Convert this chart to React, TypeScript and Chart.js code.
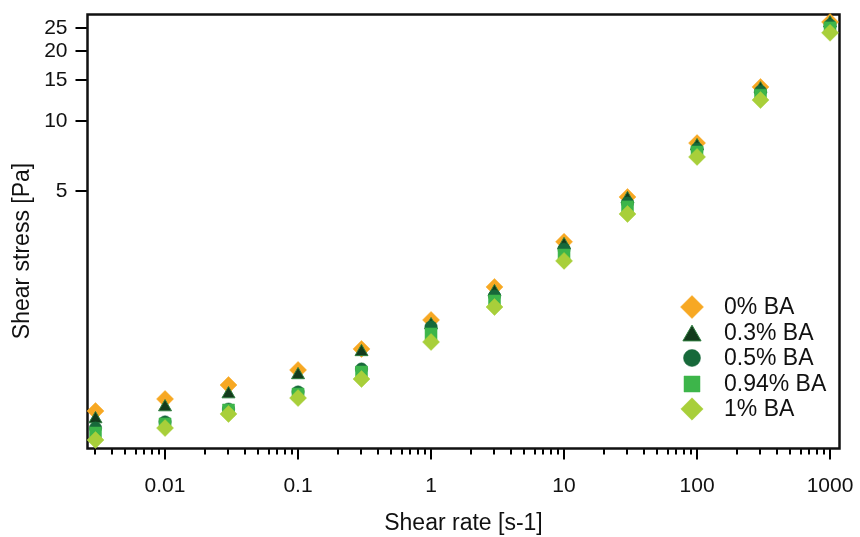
import React, { useEffect, useRef } from 'react';
import { Chart, registerables } from 'chart.js';

Chart.register(...registerables);

// Shear rate [s-1]
const shearRate = [0.003, 0.01, 0.03, 0.1, 0.3, 1, 3, 10, 30, 100, 300, 1000];
// Shear stress [Pa] per series
const ba0 = [0.569, 0.641, 0.736, 0.854, 1.051, 1.4, 1.94, 3.03, 4.72, 8.04, 14.0, 26.6];
const ba03 = [0.526, 0.592, 0.673, 0.813, 1.021, 1.332, 1.846, 2.94, 4.63, 7.81, 13.7, 26.3];
const ba05 = [0.481, 0.511, 0.58, 0.687, 0.862, 1.306, 1.774, 2.82, 4.45, 7.59, 13.4, 25.8];
const ba094 = [0.458, 0.501, 0.575, 0.673, 0.837, 1.219, 1.688, 2.66, 4.28, 7.36, 12.9, 25.1];
const ba1 = [0.4275, 0.481, 0.553, 0.647, 0.781, 1.126, 1.591, 2.51, 3.99, 7.01, 12.3, 23.9];

const seriesLabels = ['0% BA', '0.3% BA', '0.5% BA', '0.94% BA', '1% BA'];
const xTickLabels = [0.01, 0.1, 1, 10, 100, 1000];
const yTickLabels = [5, 10, 15, 20, 25];

const FONT = "'Liberation Sans', Arial, sans-serif";

type Sty = { style: string; r: number; legendR: number; fill: string; stroke: string; lw: number };
const styles: Sty[] = [
  { style: 'rectRot', r: 8.5, legendR: 11.5, fill: '#F7A823', stroke: '#F7A823', lw: 0.5 },
  { style: 'triangle', r: 7.5, legendR: 10.5, fill: '#133B1C', stroke: '#2E7D3E', lw: 1 },
  { style: 'circle', r: 6.2, legendR: 8.5, fill: '#17693A', stroke: '#17693A', lw: 0.5 },
  { style: 'rect', r: 8.5, legendR: 11.3, fill: '#3DB54A', stroke: '#3DB54A', lw: 0.5 },
  { style: 'rectRot', r: 8.5, legendR: 11.2, fill: '#A8CF3A', stroke: '#A8CF3A', lw: 0.5 },
];

function drawMarker(ctx: CanvasRenderingContext2D, s: Sty, x: number, y: number, r: number) {
  ctx.save();
  ctx.fillStyle = s.fill;
  ctx.strokeStyle = s.stroke;
  ctx.lineWidth = s.lw;
  ctx.beginPath();
  if (s.style === 'rectRot') {
    ctx.moveTo(x - r, y);
    ctx.lineTo(x, y - r);
    ctx.lineTo(x + r, y);
    ctx.lineTo(x, y + r);
    ctx.closePath();
  } else if (s.style === 'triangle') {
    const a0 = -Math.PI / 2;
    for (let i = 0; i < 3; i++) {
      const a = a0 + (i * 2 * Math.PI) / 3;
      const px = x + Math.cos(a) * r;
      const py = y + r * 0.25 + Math.sin(a) * r;
      if (i === 0) ctx.moveTo(px, py);
      else ctx.lineTo(px, py);
    }
    ctx.closePath();
  } else if (s.style === 'circle') {
    ctx.arc(x, y, r, 0, Math.PI * 2);
  } else {
    const h = r * Math.SQRT1_2;
    ctx.rect(x - h, y - h, 2 * h, 2 * h);
  }
  ctx.fill();
  ctx.stroke();
  ctx.restore();
}

const decoPlugin = {
  id: 'deco',
  beforeDatasetsDraw(chart: any) {
    const { ctx, chartArea: a, scales } = chart;
    const xs = scales.x;
    const ys = scales.y;
    ctx.save();
    ctx.strokeStyle = '#000';
    ctx.lineWidth = 2;
    ctx.beginPath();
    for (let e = -3; e <= 3; e++) {
      for (let m = 1; m <= 9; m++) {
        const v = m * Math.pow(10, e);
        if (v < xs.min || v > xs.max) continue;
        const px = Math.round(xs.getPixelForValue(v));
        const len = m === 1 ? 11 : 6;
        ctx.moveTo(px, a.bottom);
        ctx.lineTo(px, a.bottom + len);
      }
    }
    for (const v of yTickLabels) {
      const py = Math.round(ys.getPixelForValue(v));
      ctx.moveTo(a.left - 12, py);
      ctx.lineTo(a.left, py);
    }
    ctx.stroke();
    ctx.lineWidth = 2.5;
    ctx.strokeStyle = '#111';
    ctx.strokeRect(a.left, a.top, a.right - a.left, a.bottom - a.top);
    ctx.restore();
  },
  afterDraw(chart: any) {
    const { ctx } = chart;
    ctx.save();
    // y axis title
    ctx.fillStyle = '#111';
    ctx.font = `23px ${FONT}`;
    ctx.textAlign = 'center';
    ctx.textBaseline = 'middle';
    ctx.translate(23, 251);
    ctx.rotate(-Math.PI / 2);
    ctx.fillText('Shear stress [Pa]', 0, 0);
    ctx.restore();
    // legend
    ctx.save();
    const rows = [307, 333, 358, 384, 409];
    ctx.font = `23px ${FONT}`;
    ctx.fillStyle = '#111';
    ctx.textAlign = 'left';
    ctx.textBaseline = 'middle';
    seriesLabels.forEach((lab, i) => {
      drawMarker(ctx, styles[i], 692, rows[i], styles[i].legendR);
      ctx.fillText(lab, 724, rows[i] + 1);
    });
    ctx.restore();
  },
};

export default function App() {
  const ref = useRef<HTMLCanvasElement | null>(null);
  useEffect(() => {
    if (!ref.current) return;
    const series = [ba0, ba03, ba05, ba094, ba1];
    const datasets = series.map((vals, i) => ({
      label: seriesLabels[i],
      data: shearRate.map((x, j) => ({ x, y: vals[j] })),
      pointStyle: styles[i].style,
      pointRadius: styles[i].r,
      pointBackgroundColor: styles[i].fill,
      pointBorderColor: styles[i].stroke,
      pointBorderWidth: styles[i].lw,
      showLine: false,
      clip: false as any,
      order: 5 - i,
    }));
    const zeroPad = (s: any) => {
      s.paddingTop = 0;
      s.paddingBottom = 0;
      s.paddingLeft = 0;
      s.paddingRight = 0;
    };
    const chart = new Chart(ref.current, {
      type: 'scatter',
      data: { datasets },
      options: {
        animation: false,
        responsive: true,
        maintainAspectRatio: false,
        layout: { padding: { left: 9, right: 20.5, top: 14.5, bottom: 0 } },
        plugins: { legend: { display: false }, tooltip: { enabled: false } },
        scales: {
          x: {
            type: 'logarithmic',
            position: 'bottom',
            min: 0.002612,
            max: 1178,
            afterBuildTicks: (s: any) => {
              s.ticks = xTickLabels.map((v) => ({ value: v }));
            },
            afterFit: (s: any) => {
              s.height = 88.5;
              zeroPad(s);
            },
            ticks: {
              autoSkip: false,
              maxRotation: 0,
              padding: 25,
              color: '#111',
              font: { family: FONT, size: 21 },
              callback: (v: any) => String(v),
            },
            grid: { display: false, drawTicks: false, tickLength: 0 },
            border: { display: false },
            title: {
              display: true,
              text: 'Shear rate [s-1]',
              color: '#111',
              font: { family: FONT, size: 23 },
              padding: { top: 0, bottom: 0 },
            },
          },
          y: {
            type: 'logarithmic',
            position: 'left',
            min: 0.393,
            max: 28.65,
            afterBuildTicks: (s: any) => {
              s.ticks = yTickLabels.map((v) => ({ value: v }));
            },
            afterFit: (s: any) => {
              s.width = 78.5;
              zeroPad(s);
            },
            ticks: {
              autoSkip: false,
              padding: 20,
              color: '#111',
              font: { family: FONT, size: 21 },
              callback: (v: any) => String(v),
            },
            grid: { display: false, drawTicks: false, tickLength: 0 },
            border: { display: false },
          },
        },
      },
      plugins: [decoPlugin],
    } as any);
    return () => chart.destroy();
  }, []);
  return (
    <div style={{ position: 'fixed', left: 0, top: 0, width: 860, height: 537, background: '#fff' }}>
      <canvas ref={ref} />
    </div>
  );
}
